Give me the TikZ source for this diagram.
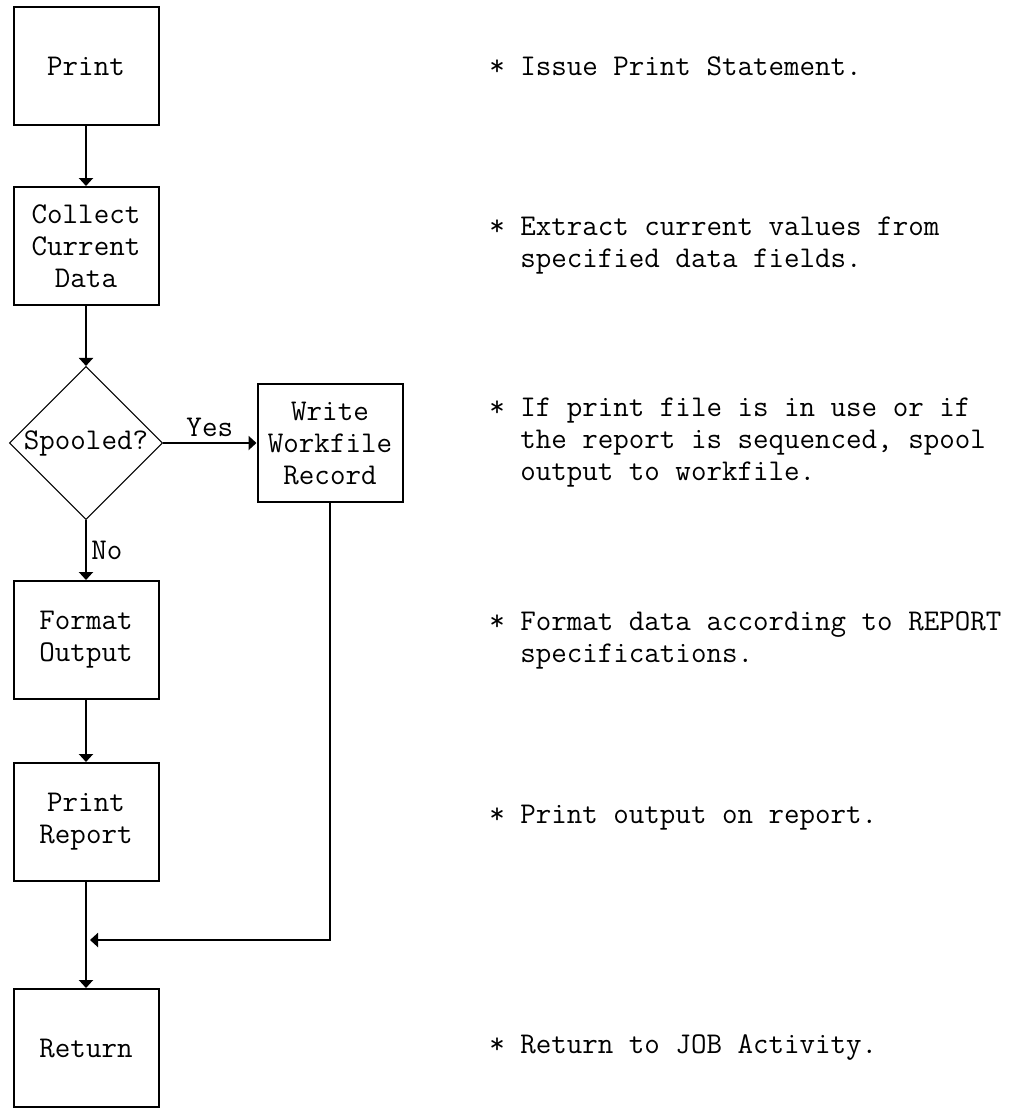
\documentclass[tikz,border=0pt]{standalone}
\usetikzlibrary{shapes.geometric,arrows.meta}
\tikzset{every node/.style={font=\ttfamily\fontsize{22.6}{24}\selectfont}}
\tikzset{box/.style={rectangle,draw,line width=1.5pt,minimum width=108.75pt,minimum height=88.5pt,align=center,inner sep=0pt}}
\tikzset{test/.style={diamond,draw,line width=0.8pt,aspect=1,minimum size=114.75pt,inner sep=0pt}}
\tikzset{note/.style={anchor=west,align=left,inner sep=0pt}}
\tikzset{flow/.style={line width=1.5pt,-{Triangle[width=10.5pt,length=6pt]}}}
\newcommand{\ind}{\hphantom{**}}

\begin{document}
\begin{tikzpicture}[x=0.75pt,y=-0.75pt]
      \useasboundingbox (0,0) rectangle (1026,1108);
      \node[box] (print) at (86,66) {Print};
      \node[box] (collect) at (86,246) {Collect\\Current\\Data};
      \node[test] (spool) at (86,443) {Spooled?};
      \node[box] (write) at (330,443) {Write\\Workfile\\Record};
      \node[box] (format) at (86,640) {Format\\Output};
      \node[box] (report) at (86,822) {Print\\Report};
      \node[box] (ret) at (86,1048) {Return};
      \coordinate (join) at (86,940);
      \foreach \a/\b in {print/collect,collect/spool,format/report,report/ret}
        \draw[flow] (\a) -- (\b);
      \draw[flow] (spool) -- node[above=3pt,inner sep=1pt] {Yes} (write);
      \draw[flow] (spool) -- node[right] {No} (format);
      \draw[flow,shorten >=3pt] (write) |- (join);
      \node[note] (n1) at (489,66) {* Issue Print Statement.};
      \node[note] (n2) at (489,246) {* Extract current values from\\\ind specified data fields.};
      \node[note] (n3) at (489,443) {* If print file is in use or if\\\ind the report is sequenced, spool\\\ind output to workfile.};
      \node[note] (n4) at (489,640) {* Format data according to REPORT\\\ind specifications.};
      \node[note] (n5) at (489,818) {* Print output on report.};
      \node[note] (n6) at (489,1048) {* Return to JOB Activity.};
    \end{tikzpicture}
\end{document}
